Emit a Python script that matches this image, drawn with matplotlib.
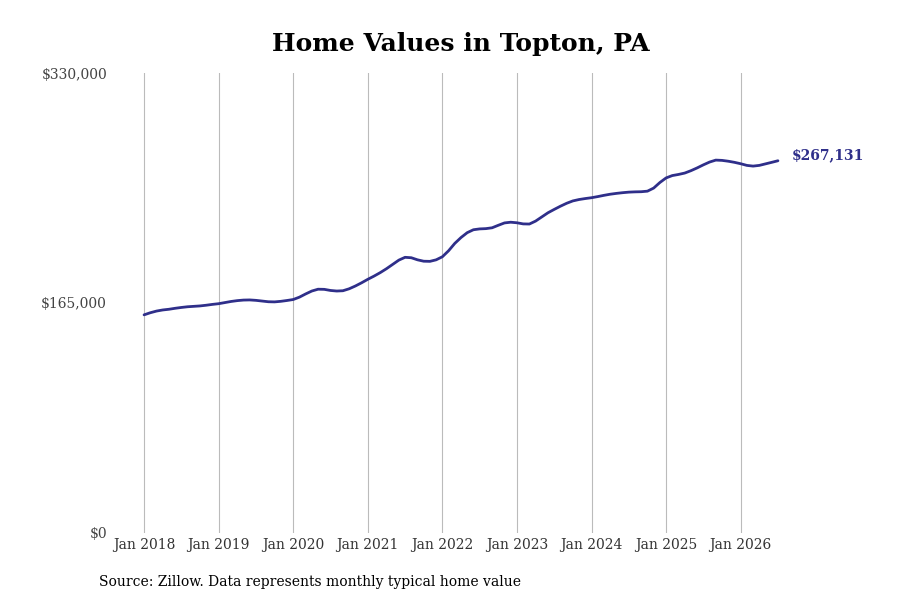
import matplotlib
matplotlib.use("Agg")
import matplotlib.pyplot as plt
import numpy as np

title = "Home Values in Topton, PA"
source = "Source: Zillow. Data represents monthly typical home value"
start_year = 2018
values_k = [
    # 2018
    156.5, 158.0, 159.2, 160.0, 160.5, 161.2, 161.8, 162.3, 162.6, 162.9, 163.4, 164.0,
    # 2019
    164.5, 165.3, 166.1, 166.7, 167.1, 167.2, 166.9, 166.4, 165.9, 165.8, 166.2, 166.8,
    # 2020
    167.5, 169.2, 171.5, 173.6, 174.9, 174.8, 174.0, 173.6, 173.8, 175.2, 177.2, 179.5,
    # 2021
    182.0, 184.3, 186.8, 189.6, 192.7, 195.8, 197.8, 197.5, 196.0, 195.0, 194.9, 196.0,
    # 2022
    198.2, 202.5, 207.8, 212.0, 215.5, 217.6, 218.2, 218.4, 219.0, 220.8, 222.5, 223.0,
    # 2023
    222.6, 221.8, 221.7, 223.8, 226.8, 229.8, 232.2, 234.5, 236.6, 238.3, 239.3, 240.0,
    # 2024
    240.6, 241.4, 242.3, 243.1, 243.7, 244.2, 244.6, 244.8, 244.9, 245.3, 247.5, 251.5,
    # 2025
    254.8, 256.5, 257.3, 258.3, 260.0, 262.0, 264.2, 266.2, 267.6, 267.4, 266.8, 266.0,
    # 2026
    265.0, 263.8, 263.3, 263.8, 264.9, 266.0, 267.131,
]
values = np.array(values_k) * 1000
tick_years = list(range(2018, 2027))
tick_labels = [f"Jan {y}" for y in tick_years]
y_ticks = [0, 165000, 330000]
y_labels = ["$0", "$165,000", "$330,000"]
end_label = "$267,131"

line_color = "#2f2f8a"

fig = plt.figure(figsize=(9, 6), dpi=100)
ax = fig.add_axes([0.129, 0.112, 0.763, 0.766])

months = np.arange(len(values))
ax.plot(months, values, color=line_color, lw=2.0, solid_capstyle="round")

ax.set_xlim(-4.5, 106)
ax.set_ylim(0, 330000)
ax.set_xticks([(y - start_year) * 12 for y in tick_years])
ax.set_xticklabels(tick_labels, family="DejaVu Serif", fontsize=10, color="#333333")
ax.set_yticks(y_ticks)
ax.set_yticklabels(y_labels, family="DejaVu Serif", fontsize=10, color="#444444")
ax.tick_params(axis="both", length=0)
ax.tick_params(axis="x", pad=4)
ax.tick_params(axis="y", pad=6.5)
ax.grid(axis="x", color="#bbbbbb", lw=0.8)
ax.grid(axis="y", visible=False)
for s in ax.spines.values():
    s.set_visible(False)

ax.annotate(end_label, xy=(months[-1], values[-1]), xytext=(14, 6),
            textcoords="offset pixels", va="center", ha="left",
            family="DejaVu Serif", fontweight="bold", fontsize=10, color=line_color)

fig.text(0.512, 0.927, title, ha="center", va="center",
         family="DejaVu Serif", fontweight="bold", fontsize=18, color="black")
fig.text(0.11, 0.03, source, ha="left", va="center",
         family="DejaVu Serif", fontsize=10, color="black")

fig.savefig("out.png", dpi=100)
